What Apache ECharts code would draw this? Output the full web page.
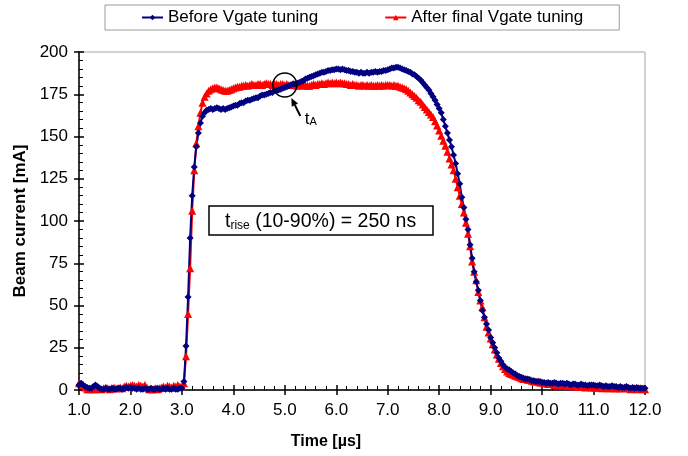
<!DOCTYPE html>
<html>
<head>
<meta charset="utf-8">
<script src="https://cdn.jsdelivr.net/npm/echarts@6/dist/echarts.min.js"></script>
<style>
html,body{margin:0;padding:0;background:#fff;}
#c{width:688px;height:456px;}
</style>
</head>
<body>
<div id="c"></div>
<script>
// sampling grid of the traces (µs)
const tStart = 1.0;
const tStep = 0.04;
const seriesNames = ['Before Vgate tuning', 'After final Vgate tuning'];
const xTickMin = 1, xTickMax = 12, xTickStep = 1;
const yTickMin = 0, yTickMax = 200, yTickStep = 25;

// Beam current [mA], before Vgate tuning (one row per µs)
const beforeValues = [
  3, 4, 3, 2, 1.5, 1, 1, 2, 3, 2, 1, 0.5, 0.5, 1, 0.5, 0.5, 1, 0.5, 0.5, 1, 1, 0.5, 1, 1.5, 1,
  1.5, 1, 1, 0.5, 1, 0.5, 0.5, 1, 0.5, 0.5, 1, 0.5, 0.5, 1, 0.5, 0.5, 1, 0.5, 1, 0.5, 0.5, 1, 0.5, 0.5, 1,
  1, 5, 26, 55, 90, 115, 132, 144, 152, 158, 162, 164, 165.5, 166, 166.5, 166, 166.5, 167, 166.5, 166, 166.5, 166, 166.5, 167, 167.5,
  168, 168.5, 168.5, 169.5, 170, 170, 171, 171.5, 171.5, 172, 172.5, 173, 173, 174, 174.5, 174.5, 175, 175.5, 176, 176, 177, 177, 177.5, 178, 178.5,
  179, 179.5, 180, 180.5, 181, 181, 181.5, 182, 182.5, 183, 184, 184.5, 185, 185.5, 186, 186.5, 187, 187.5, 188, 188, 188.5, 189, 189, 189.5, 189.5,
  190, 190, 189.5, 190, 189.5, 189, 189, 188.5, 188.5, 188, 188, 187.5, 188, 187.5, 187.5, 188, 187.5, 188, 188, 188.5, 188, 188.5, 188.5, 189, 189,
  189.5, 190, 190.5, 190.5, 191, 191, 190.5, 190, 189.5, 189, 188.5, 188, 187, 186.5, 185.5, 184.5, 183.5, 182, 180.5, 179, 177.5, 175.5, 173.5, 171.5, 169,
  166.5, 164, 160, 156, 152, 148, 144, 139, 134, 128, 122, 114, 108, 101, 95, 86, 78, 70, 64, 59, 53, 47, 43, 39, 35.5,
  31, 28, 25, 22, 19, 17, 15, 13.5, 12.5, 12, 11, 10, 9.5, 8.5, 8, 7.5, 7, 6.5, 6.5, 6, 5.5, 5.5, 5, 5, 5,
  4.5, 4.5, 4, 4.5, 4, 4, 4.5, 4, 3.5, 4, 4, 3.5, 4, 3.5, 3, 3.5, 3.5, 3, 3, 3.5, 3, 3, 2.5, 3, 3,
  3, 2.5, 2.5, 3, 2.5, 2, 2.5, 2, 2, 2.5, 2, 2, 1.5, 2, 1.5, 1.5, 2, 1.5, 1, 1.5, 1, 1.5, 1, 1, 1,
  1
];

// Beam current [mA], after final Vgate tuning
const afterValues = [
  4, 3.5, 3, 1.5, 0.5, 0.5, 1, 0.5, 0.5, 1, 1, 0.5, 1, 1.5, 1, 0.5, 1, 1.5, 1, 1, 1.5, 1, 2, 2.5, 2,
  2.5, 3, 2.5, 2, 3, 2.5, 2, 3, 1.5, 0.5, 0.5, 0.5, 1, 0.5, 1, 1.5, 2, 1.5, 2.5, 2, 1.5, 2.5, 2, 3, 2,
  2, 4, 20, 45, 72, 106, 130, 146, 156, 164, 170, 173.5, 175.5, 177, 178, 178.5, 179, 179, 178.5, 178, 177.5, 177, 177, 177.5, 178,
  178.5, 179, 179.5, 179.5, 180, 180, 180.5, 180, 180.5, 181, 180.5, 180.5, 181, 181, 180.5, 181, 181.5, 181, 181, 180.5, 181, 181, 180.5, 181, 181,
  180.5, 181, 180.5, 180.5, 181, 180.5, 180, 180.5, 180.5, 180, 180.5, 180, 180, 180.5, 181, 180.5, 181, 181, 181.5, 181, 181.5, 182, 181.5, 182, 181.5,
  182, 181.5, 182, 181.5, 181.5, 181, 181, 180.5, 181, 180.5, 180.5, 180, 180.5, 180.5, 180, 180.5, 180, 180.5, 180, 180, 180.5, 180, 180.5, 180, 180.5,
  180.5, 180.5, 180, 180.5, 180, 180, 179.5, 179, 178.5, 178, 177, 176, 175, 174, 173, 171.5, 170.5, 169, 167.5, 166, 164.5, 163, 161.5, 159, 156.5,
  153.5, 150.5, 147.5, 144.5, 141, 137, 133.5, 130, 125, 120, 115, 110, 105, 99, 92.5, 85, 76, 70, 65, 58, 53, 49, 43, 37.5, 34,
  30.5, 27, 24, 21, 18.5, 16, 14, 12.5, 11, 10, 9.5, 9, 8.5, 8, 7.5, 7, 6.5, 6.5, 6, 6, 5.5, 5, 5, 5, 4.5,
  4.5, 4, 4, 3.5, 3.5, 3.5, 3, 3, 3, 3, 2.5, 3, 2.5, 2.5, 2.5, 2, 2.5, 2, 2, 2, 2, 1.5, 2, 2, 1.5,
  1.5, 1.5, 1.5, 1.5, 1, 1.5, 1.5, 1, 1, 1.5, 1, 1, 1, 1, 1, 1.5, 1, 1, 0.5, 1, 1, 0.5, 1, 1, 0.5,
  0.5
];

const toPairs = vals => vals.map((v, i) => [+(tStart + i * tStep).toFixed(2), v]);

const FONT = '"Liberation Sans", Arial, sans-serif';
const chart = echarts.init(document.getElementById('c'), null, {renderer: 'canvas'});

const baseX = {
  type: 'value', gridIndex: 0, position: 'bottom',
  min: xTickMin, max: xTickMax, interval: xTickStep
};
const baseY = {
  type: 'value', gridIndex: 0, position: 'left',
  min: yTickMin, max: yTickMax, interval: yTickStep
};

chart.setOption({
  animation: false,
  backgroundColor: '#ffffff',
  textStyle: {fontFamily: FONT},
  grid: {left: 79, right: 43, top: 52, bottom: 66, show: true, borderColor: '#a6a6a6', borderWidth: 1, backgroundColor: 'transparent'},
  legend: {
    data: seriesNames,
    left: 105, top: 5,
    padding: [4, 36, 4, 36],
    itemGap: 66, itemWidth: 21, itemHeight: 7, itemTextGap: 3,
    borderColor: '#9a9a9a', borderWidth: 1,
    textStyle: {fontSize: 17, color: '#000', fontFamily: FONT}
  },
  xAxis: [
    Object.assign({}, baseX, {
      axisLine: {show: true, onZero: false, lineStyle: {color: '#000', width: 1.5}},
      axisTick: {show: true, length: 5, inside: false, lineStyle: {color: '#000', width: 1.5}},
      minorTick: {show: false},
      splitLine: {show: false},
      axisLabel: {show: true, fontSize: 17, color: '#000', margin: 12, fontFamily: FONT,
        formatter: v => v.toFixed(1)},
      name: 'Time [\u00b5s]', nameLocation: 'middle', nameGap: 44,
      nameTextStyle: {fontSize: 16, fontWeight: 'bold', color: '#000', fontFamily: FONT, padding: [0, 72, 0, 0]}
    }),
    Object.assign({}, baseX, {
      axisLine: {show: false, onZero: false},
      axisTick: {show: true, length: 5, inside: true, lineStyle: {color: '#000', width: 1.5}},
      minorTick: {show: true, splitNumber: 5, length: 4, lineStyle: {color: '#000', width: 1}},
      splitLine: {show: false},
      axisLabel: {show: false}
    })
  ],
  yAxis: [
    Object.assign({}, baseY, {
      axisLine: {show: true, onZero: false, lineStyle: {color: '#000', width: 1.5}},
      axisTick: {show: true, length: 5, inside: false, lineStyle: {color: '#000', width: 1.5}},
      minorTick: {show: false},
      splitLine: {show: false},
      axisLabel: {show: true, fontSize: 17, color: '#000', margin: 11, fontFamily: FONT},
      name: 'Beam current [mA]', nameLocation: 'middle', nameGap: 45,
      nameTextStyle: {fontSize: 17, fontWeight: 'bold', color: '#000', fontFamily: FONT}
    }),
    Object.assign({}, baseY, {
      axisLine: {show: false, onZero: false},
      axisTick: {show: true, length: 5, inside: true, lineStyle: {color: '#000', width: 1.5}},
      minorTick: {show: true, splitNumber: 5, length: 4, lineStyle: {color: '#000', width: 1}},
      splitLine: {show: false},
      axisLabel: {show: false}
    })
  ],
  series: [
    {
      name: seriesNames[1], type: 'line', xAxisIndex: 0, yAxisIndex: 0,
      data: toPairs(afterValues),
      symbol: 'triangle', symbolSize: 8, showAllSymbol: true,
      lineStyle: {color: '#ff0000', width: 2},
      itemStyle: {color: '#ff0000', borderWidth: 0},
      emphasis: {disabled: true}
    },
    {
      name: seriesNames[0], type: 'line', xAxisIndex: 0, yAxisIndex: 0,
      data: toPairs(beforeValues),
      symbol: 'diamond', symbolSize: 7, showAllSymbol: true,
      lineStyle: {color: '#000080', width: 2},
      itemStyle: {color: '#000080', borderWidth: 0},
      emphasis: {disabled: true}
    }
  ]
});

// annotations
const c = chart.convertToPixel({xAxisIndex: 0, yAxisIndex: 0}, [5.0, 180.5]);
const tip = [c[0] + 6.5, c[1] + 13];
const tail = [c[0] + 15.5, c[1] + 31];
const ang = Math.atan2(tip[1] - tail[1], tip[0] - tail[0]);
const hl = 8, hw = 3.5;
const base = [tip[0] - hl * Math.cos(ang), tip[1] - hl * Math.sin(ang)];
const p1 = [base[0] + hw * Math.sin(ang), base[1] - hw * Math.cos(ang)];
const p2 = [base[0] - hw * Math.sin(ang), base[1] + hw * Math.cos(ang)];

chart.setOption({
  graphic: [
    {type: 'circle', shape: {cx: c[0], cy: c[1], r: 12}, style: {fill: 'none', stroke: '#000', lineWidth: 1.5}, z: 100},
    {type: 'line', shape: {x1: tail[0], y1: tail[1], x2: base[0], y2: base[1]}, style: {stroke: '#000', lineWidth: 2}, z: 100},
    {type: 'polygon', shape: {points: [tip, p1, p2]}, style: {fill: '#000'}, z: 100},
    {type: 'text', x: c[0] + 20, y: c[1] + 33, z: 100,
      style: {text: '{a|t}{b|A}', verticalAlign: 'middle', fontFamily: FONT,
        rich: {a: {fontSize: 17, fontFamily: FONT, color: '#000', lineHeight: 20, verticalAlign: 'bottom'},
               b: {fontSize: 11, fontFamily: FONT, color: '#000', lineHeight: 11, verticalAlign: 'bottom'}}}},
    {type: 'rect', shape: {x: 209, y: 206, width: 224, height: 29}, style: {fill: '#fff', stroke: '#000', lineWidth: 1.5}, z: 100},
    {type: 'text', x: 225, y: 221, z: 101,
      style: {text: '{a|t}{b|rise}{a| (10-90%) = 250 ns}', verticalAlign: 'middle', fontFamily: FONT,
        rich: {a: {fontSize: 19.5, fontFamily: FONT, color: '#000', lineHeight: 22, verticalAlign: 'bottom'},
               b: {fontSize: 12, fontFamily: FONT, color: '#000', lineHeight: 12, verticalAlign: 'bottom'}}}}
  ]
});
</script>
</body>
</html>
